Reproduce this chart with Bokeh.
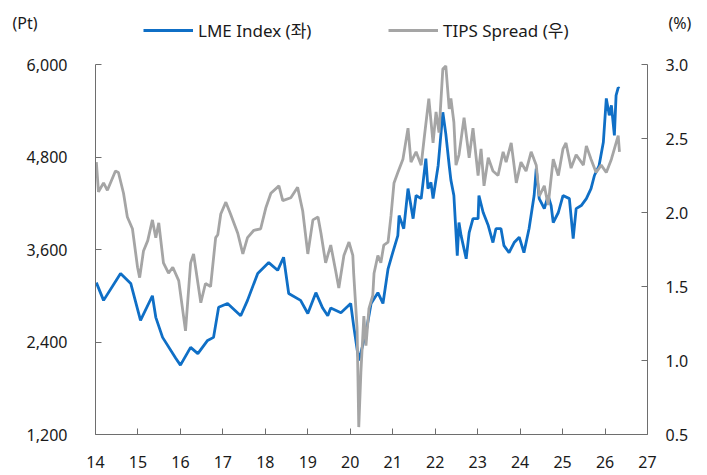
from bokeh.plotting import figure
from bokeh.layouts import column
from bokeh.models import (Range1d, LinearAxis, FixedTicker, NumeralTickFormatter,
                          Legend, LegendItem, Label, ColumnDataSource)
from bokeh.embed import file_html
from bokeh.resources import INLINE

# ---------------- data ----------------
x_ticks = list(range(14, 28))
lme_ticks = [1200, 2400, 3600, 4800, 6000]
tips_ticks = [0.5, 1.0, 1.5, 2.0, 2.5, 3.0]

lme_year = [14.02, 14.19, 14.59, 14.83, 15.06, 15.34, 15.42, 15.58, 15.89, 16.00,
            16.24, 16.41, 16.64, 16.78, 16.90, 17.11, 17.42, 17.58, 17.82, 18.08,
            18.29, 18.43, 18.55, 18.83, 19.00, 19.19, 19.35, 19.47, 19.54, 19.78,
            20.01, 20.08, 20.20, 20.37, 20.49, 20.65, 20.77, 20.89, 21.00, 21.12,
            21.15, 21.26, 21.36, 21.48, 21.55, 21.67, 21.78, 21.83, 21.90, 21.95,
            22.07, 22.18, 22.25, 22.33, 22.37, 22.44, 22.52, 22.56, 22.61, 22.73,
            22.80, 22.89, 23.01, 23.03, 23.13, 23.25, 23.36, 23.43, 23.55, 23.62,
            23.74, 23.86, 23.98, 24.09, 24.21, 24.33, 24.38, 24.45, 24.57, 24.66,
            24.73, 24.78, 24.90, 25.01, 25.16, 25.25, 25.32, 25.44, 25.56, 25.67,
            25.75, 25.86, 25.96, 26.03, 26.10, 26.15, 26.22, 26.26, 26.31, 26.34]
lme_val = [3170, 2940, 3290, 3160, 2680, 3000, 2720, 2460, 2190, 2100,
           2330, 2250, 2420, 2460, 2850, 2900, 2740, 2940, 3290, 3430,
           3330, 3500, 3030, 2940, 2770, 3040, 2840, 2740, 2840, 2780,
           2900, 2610, 2160, 2520, 2900, 3040, 2900, 3350, 3560, 3780,
           4040, 3870, 4390, 4000, 4300, 4260, 4780, 4390, 4470, 4260,
           4690, 5380, 5100, 4690, 4500, 4300, 3520, 3950, 3780, 3480,
           3820, 4000, 4000, 4300, 4080, 3910, 3690, 3870, 3870, 3650,
           3560, 3690, 3760, 3560, 3870, 4300, 4650, 4260, 4130, 4300,
           4170, 3950, 4080, 4300, 4260, 3740, 4130, 4170, 4260, 4390,
           4560, 4690, 4990, 5560, 5340, 5470, 5080, 5600, 5700, 5690]

tips_year = [14.02, 14.07, 14.19, 14.28, 14.47, 14.54, 14.66, 14.75, 14.87, 14.99,
             15.04, 15.13, 15.23, 15.34, 15.42, 15.49, 15.60, 15.72, 15.82, 15.96,
             16.12, 16.24, 16.31, 16.48, 16.59, 16.71, 16.83, 16.88, 16.95, 17.07,
             17.18, 17.35, 17.47, 17.58, 17.73, 17.89, 18.01, 18.13, 18.32, 18.41,
             18.60, 18.76, 18.88, 19.00, 19.12, 19.24, 19.31, 19.42, 19.54, 19.66,
             19.73, 19.85, 19.97, 20.06, 20.08, 20.16, 20.18, 20.20, 20.25, 20.32,
             20.37, 20.44, 20.53, 20.56, 20.65, 20.72, 20.79, 20.89, 20.96, 21.03,
             21.12, 21.24, 21.36, 21.43, 21.55, 21.67, 21.74, 21.85, 21.95, 22.02,
             22.09, 22.18, 22.25, 22.33, 22.37, 22.44, 22.49, 22.56, 22.68, 22.80,
             22.89, 23.01, 23.08, 23.15, 23.25, 23.36, 23.48, 23.60, 23.67, 23.79,
             23.91, 24.02, 24.14, 24.26, 24.38, 24.45, 24.57, 24.66, 24.78, 24.90,
             25.01, 25.08, 25.20, 25.32, 25.49, 25.56, 25.67, 25.79, 25.91, 26.03,
             26.15, 26.22, 26.31, 26.34]
tips_val = [2.34, 2.14, 2.20, 2.15, 2.28, 2.27, 2.13, 1.97, 1.89, 1.63,
            1.56, 1.74, 1.81, 1.95, 1.83, 1.93, 1.66, 1.59, 1.63, 1.54,
            1.20, 1.66, 1.72, 1.39, 1.52, 1.50, 1.83, 1.85, 1.99, 2.07,
            1.99, 1.86, 1.72, 1.83, 1.88, 1.89, 2.03, 2.13, 2.18, 2.08,
            2.10, 2.17, 2.01, 1.72, 1.95, 1.97, 1.86, 1.66, 1.78, 1.60,
            1.49, 1.71, 1.80, 1.71, 1.59, 1.22, 0.90, 0.55, 0.92, 1.30,
            1.10, 1.35, 1.44, 1.59, 1.71, 1.66, 1.78, 1.80, 1.98, 2.20,
            2.27, 2.36, 2.57, 2.34, 2.41, 2.32, 2.50, 2.77, 2.47, 2.68,
            2.54, 2.97, 2.99, 2.70, 2.77, 2.61, 2.32, 2.39, 2.64, 2.37,
            2.57, 2.25, 2.43, 2.18, 2.37, 2.28, 2.25, 2.41, 2.34, 2.47,
            2.20, 2.34, 2.28, 2.41, 2.32, 2.11, 2.18, 2.05, 2.36, 2.25,
            2.43, 2.47, 2.30, 2.39, 2.32, 2.45, 2.36, 2.27, 2.32, 2.27,
            2.36, 2.43, 2.52, 2.41]

lme_name = "LME Index (좌)"
tips_name = "TIPS Spread (우)"
left_unit = "(Pt)"
right_unit = "(%)"

# ---------------- styles ----------------
BLUE = "#0F6FC6"
GRAY = "#A5A5A5"
AXIS = "#6e6e6e"
TXT = "#1a1a1a"
NUM_FONT = "Noto Sans"
KR_FONT = "'Noto Sans', 'Noto Sans CJK KR'"
FS = "16px"
LEG_FS = "17px"
LW = 2.8

lme_src = ColumnDataSource(dict(x=lme_year, y=lme_val))
tips_src = ColumnDataSource(dict(x=tips_year, y=tips_val))

# ---------------- header strip: legend + unit labels ----------------
HEAD_H = 50
head = figure(width=707, height=HEAD_H, output_backend="svg", toolbar_location=None,
              x_range=Range1d(0, 707), y_range=Range1d(-2, -1),
              x_axis_location=None, y_axis_location=None,
              min_border_left=0, min_border_right=0, min_border_top=0,
              min_border_bottom=0)
head.outline_line_color = None
head.xgrid.visible = False
head.ygrid.visible = False
head.background_fill_color = "white"
head.border_fill_color = "white"

# legend keys: the series themselves (they lie outside this strip's view)
k_lme = head.line("x", "y", source=lme_src, line_color=BLUE, line_width=LW)
k_tips = head.line("x", "y", source=tips_src, line_color=GRAY, line_width=LW)

for name, rend, vx in ((lme_name, k_lme, 143), (tips_name, k_tips, 388)):
    lg = Legend(items=[LegendItem(label=name, renderers=[rend])],
                location=(vx, 8), orientation="horizontal",
                padding=0, margin=0, spacing=0,
                border_line_color=None, background_fill_alpha=0,
                glyph_width=50, glyph_height=20, label_height=20,
                label_standoff=5, label_text_font=KR_FONT,
                label_text_font_size=LEG_FS, label_text_color=TXT)
    head.add_layout(lg)

head.add_layout(Label(x=12, y=HEAD_H - 22, x_units="screen", y_units="screen",
                      text=left_unit, text_font=KR_FONT, text_font_size=FS,
                      text_color=TXT, text_baseline="middle", text_align="left"))
head.add_layout(Label(x=668, y=HEAD_H - 22, x_units="screen", y_units="screen",
                      text=right_unit, text_font=KR_FONT, text_font_size=FS,
                      text_color=TXT, text_baseline="middle", text_align="left"))

# ---------------- main chart ----------------
p = figure(width=707, height=475 - HEAD_H, output_backend="svg", toolbar_location=None,
           x_range=Range1d(14, 27), y_range=Range1d(1200, 6000),
           min_border_left=95, min_border_right=60, min_border_top=64 - HEAD_H,
           min_border_bottom=41)
p.outline_line_color = None
p.xgrid.visible = False
p.ygrid.visible = False
p.background_fill_color = "white"
p.border_fill_color = "white"

for fig in (head, p):
    try:
        fig.frame_align = False
    except Exception:
        pass

p.extra_y_ranges = {"tips": Range1d(0.5, 3.0)}

p.line("x", "y", source=lme_src, line_color=BLUE, line_width=LW)
p.line("x", "y", source=tips_src, line_color=GRAY, line_width=LW, y_range_name="tips")

xa = p.xaxis[0]
xa.ticker = FixedTicker(ticks=x_ticks)
xa.minor_tick_line_color = None
xa.major_tick_in = 6
xa.major_tick_out = 0
xa.axis_line_color = AXIS
xa.major_tick_line_color = AXIS
xa.major_label_text_font = NUM_FONT
xa.major_label_text_font_size = FS
xa.major_label_text_color = TXT
xa.major_label_standoff = 21

ya = p.yaxis[0]
ya.ticker = FixedTicker(ticks=lme_ticks)
ya.formatter = NumeralTickFormatter(format="0,0")
ya.minor_tick_line_color = None
ya.major_tick_in = 6
ya.major_tick_out = 0
ya.axis_line_color = AXIS
ya.major_tick_line_color = AXIS
ya.major_label_text_font = NUM_FONT
ya.major_label_text_font_size = FS
ya.major_label_text_color = TXT
ya.major_label_standoff = 28

ra = LinearAxis(y_range_name="tips", ticker=FixedTicker(ticks=tips_ticks),
                formatter=NumeralTickFormatter(format="0.0"))
ra.minor_tick_line_color = None
ra.major_tick_in = 6
ra.major_tick_out = 0
ra.axis_line_color = AXIS
ra.major_tick_line_color = AXIS
ra.major_label_text_font = NUM_FONT
ra.major_label_text_font_size = FS
ra.major_label_text_color = TXT
ra.major_label_standoff = 18
p.add_layout(ra, "right")

layout = column(head, p, spacing=0)
open("out.html", "w").write(file_html(layout, INLINE))
